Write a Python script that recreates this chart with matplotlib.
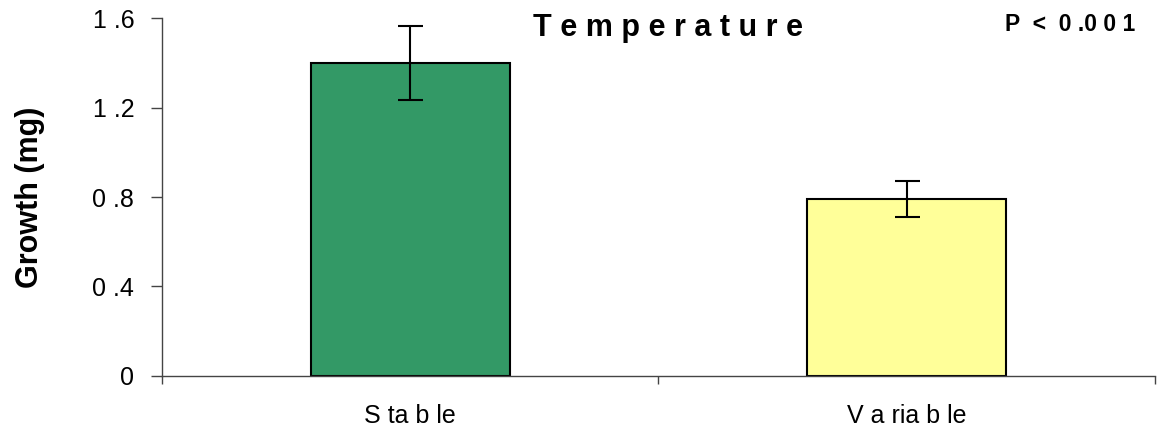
import numpy as np
import matplotlib.pyplot as plt

# bar data
groups = ['S ta b le', 'V a ria b le']
growth = [1.40, 0.79]
err = [0.165, 0.08]
colors = ['#339966', '#FFFF99']
yticks = [0, 0.4, 0.8, 1.2, 1.6]
ytick_labels = ['0', '0 .4', '0 .8', '1 .2', '1 .6']

plt.rcParams['font.family'] = ['Liberation Sans', 'DejaVu Sans']

fig = plt.figure(figsize=(11.67, 4.26), dpi=100)
ax = fig.add_axes([0.1388, 0.1174, 0.8509, 0.8403])

x = np.arange(len(groups)) + 0.5
ax.bar(x, growth, width=0.4, color=colors, edgecolor='black', linewidth=1.5, zorder=2)
ax.errorbar(x, growth, yerr=err, fmt='none', ecolor='black', elinewidth=1.5,
            capsize=9, capthick=1.5, zorder=3)

ax.set_xlim(0, 2)
ax.set_ylim(0, 1.6)
ax.set_yticks(yticks)
ax.set_yticklabels(ytick_labels, fontsize=18)
ax.set_xticks([0, 1, 2])
ax.set_xticklabels([])
ax.set_xticks(x, minor=True)
ax.set_xticklabels(groups, minor=True, fontsize=18)
ax.tick_params(axis='x', which='minor', length=0, pad=20)
ax.tick_params(axis='x', which='major', length=6, width=1, color='#444444')
ax.tick_params(axis='y', length=8, width=1, color='#444444', pad=12)

for s in ['top', 'right']:
    ax.spines[s].set_visible(False)
for s in ['left', 'bottom']:
    ax.spines[s].set_color('#444444')
    ax.spines[s].set_linewidth(1)

ax.set_ylabel('Growth (mg)', fontsize=22, fontweight='bold', labelpad=34)
ax.text(1.02, 1.555, 'T e m p e r a t u r e', fontsize=22, fontweight='bold',
        ha='center', va='center')
ax.text(1.96, 1.57, 'P  <  0 .0 0 1', fontsize=16.5, fontweight='bold',
        ha='right', va='center')

fig.savefig('out.png', dpi=100)
